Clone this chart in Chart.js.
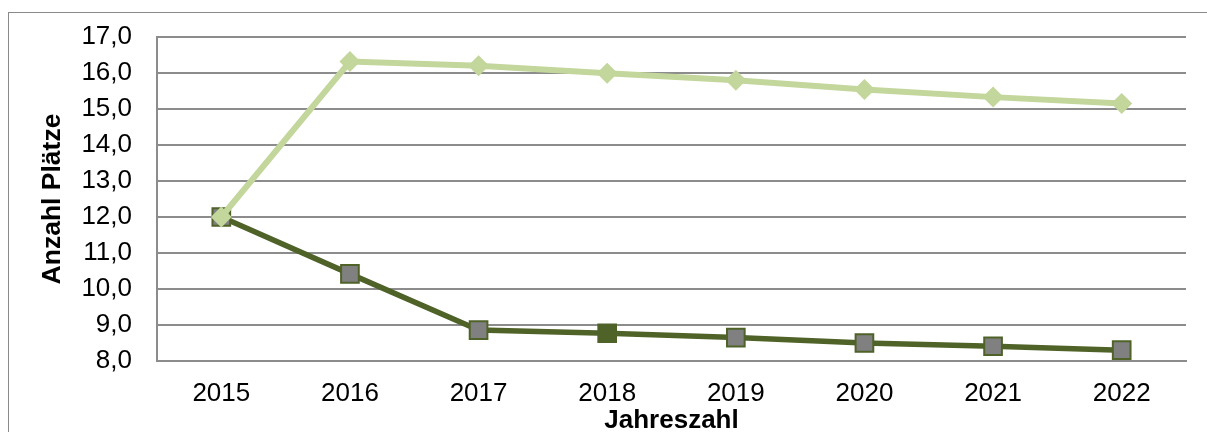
<!DOCTYPE html>
<html>
<head>
<meta charset="utf-8">
<script src="https://cdn.jsdelivr.net/npm/chart.js@4/dist/chart.umd.min.js"></script>
<style>
  html, body { margin: 0; padding: 0; background: #fff; overflow: hidden; }
  #wrap { position: relative; width: 1207px; height: 432px; }
  #frame { position: absolute; left: 8px; top: 12px; width: 1240px; height: 460px; border: 1.5px solid #8a8a8a; box-sizing: border-box; }
  #chart { position: absolute; left: 0; top: 0; }
</style>
</head>
<body>
<div id="wrap">
  <div id="frame"></div>
  <canvas id="chart" width="1207" height="432"></canvas>
</div>
<script>
// Jahre und Werte
const years = ['2015', '2016', '2017', '2018', '2019', '2020', '2021', '2022'];
const upperSeries = [12.0, 16.32, 16.20, 15.99, 15.80, 15.54, 15.33, 15.15];
const lowerSeries = [12.0, 10.42, 8.86, 8.77, 8.65, 8.50, 8.41, 8.30];
const yTicks = [8, 9, 10, 11, 12, 13, 14, 15, 16, 17];

const COLORS = {
  light: '#c3d69b',
  dark: '#4f6228',
  markerFill: '#808080',
  grid: '#8c8c8c',
  text: '#000'
};

const FONT = "'Liberation Sans', Arial, sans-serif";

// 2018 marker is filled dark green, others gray
const lowerFill = years.map(y => y === '2018' ? COLORS.dark : COLORS.markerFill);

const ctx = document.getElementById('chart');

new Chart(ctx, {
  type: 'line',
  data: {
    labels: years,
    datasets: [{
      label: 'oben',
      data: upperSeries,
      borderColor: COLORS.light,
      backgroundColor: COLORS.light,
      borderWidth: 6,
      tension: 0,
      pointStyle: 'rectRot',
      pointRadius: 10.5,
      pointBackgroundColor: COLORS.light,
      pointBorderColor: COLORS.light,
      pointBorderWidth: 0
    }, {
      label: 'unten',
      data: lowerSeries,
      borderColor: COLORS.dark,
      backgroundColor: COLORS.dark,
      borderWidth: 5.5,
      tension: 0,
      pointStyle: 'rect',
      pointRadius: 12.5,
      pointBackgroundColor: lowerFill,
      pointBorderColor: COLORS.dark,
      pointBorderWidth: 2
    }]
  },
  options: {
    responsive: false,
    animation: false,
    layout: { padding: { left: 0, right: 21, top: 37, bottom: 0 } },
    plugins: {
      legend: { display: false },
      tooltip: { enabled: false }
    },
    scales: {
      x: {
        offset: true,
        grid: { display: false, drawTicks: false },
        border: { display: true, color: COLORS.grid, width: 2 },
        ticks: { color: COLORS.text, padding: 17, font: { family: FONT, size: 26 } },
        title: {
          display: true,
          text: 'Jahreszahl',
          color: COLORS.text,
          font: { family: FONT, size: 26, weight: 'bold' },
          padding: { top: 0, bottom: -4 }
        },
        afterFit: (scale) => { scale.height = 71; }
      },
      y: {
        min: 8,
        max: 17,
        afterBuildTicks: (scale) => { scale.ticks = yTicks.map(v => ({ value: v })); },
        grid: { color: COLORS.grid, lineWidth: 2, drawTicks: false },
        border: { display: true, color: COLORS.grid, width: 2 },
        ticks: {
          color: COLORS.text,
          padding: 25,
          font: { family: FONT, size: 26 },
          callback: (v) => v.toFixed(1).replace('.', ',')
        },
        title: {
          display: true,
          text: 'Anzahl Plätze',
          color: COLORS.text,
          font: { family: FONT, size: 26.5, weight: 'bold' },
          padding: { top: 37, bottom: 0 }
        },
        afterFit: (scale) => {
          scale.width = 157;
          // tick padding would otherwise push the plot area down
          scale.paddingTop = 0;
          scale.paddingBottom = 0;
        }
      }
    }
  }
});
</script>
</body>
</html>
